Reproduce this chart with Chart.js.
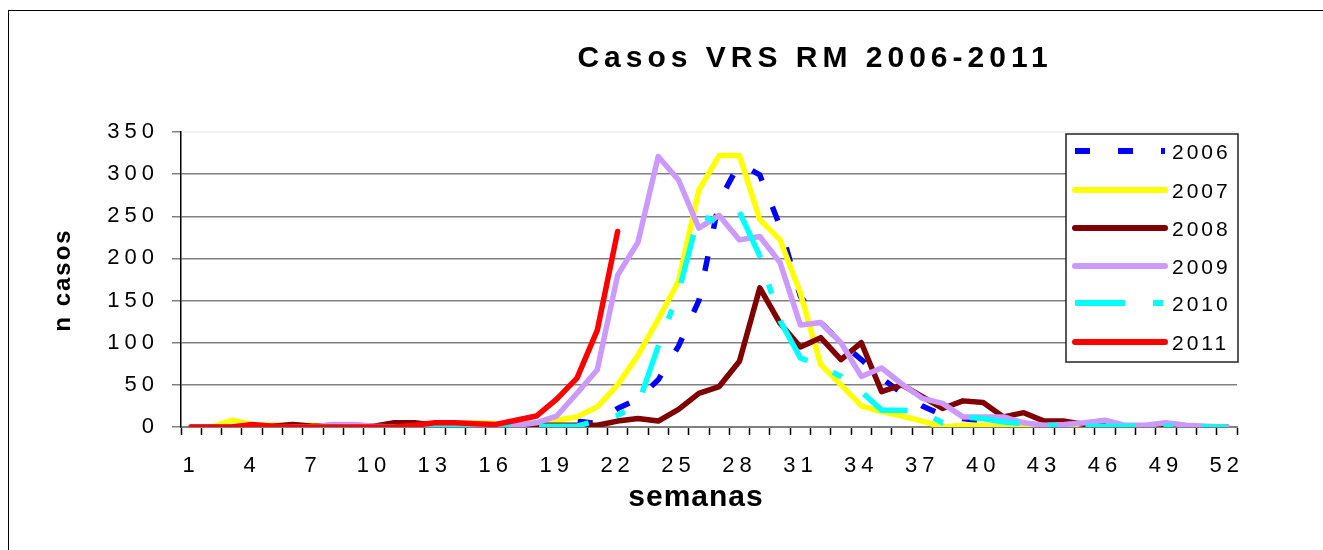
<!DOCTYPE html>
<html>
<head>
<meta charset="utf-8">
<script src="https://cdn.jsdelivr.net/npm/chart.js@4.4.0/dist/chart.umd.min.js"></script>
<style>
  html, body { margin: 0; padding: 0; background: #fff; }
  #wrap { position: relative; width: 1323px; height: 550px; overflow: hidden; }
  #frame { position: absolute; left: 8px; top: 10px; width: 1400px; height: 600px;
           border-left: 1.5px solid #000; border-top: 1.5px solid #000; }
  canvas { position: absolute; left: 0; top: 0; }
</style>
</head>
<body>
<div id="wrap">
  <div id="frame"></div>
  <canvas id="chart" width="1323" height="550"></canvas>
</div>
<script>
const FONT = '"Liberation Sans", Arial, sans-serif';

const TITLE = 'Casos VRS RM 2006-2011';
const X_TITLE = 'semanas';
const Y_TITLE = 'n casos';

// semanas 1..52
const WEEKS = ['1','2','3','4','5','6','7','8','9','10','11','12','13','14','15','16','17','18',
  '19','20','21','22','23','24','25','26','27','28','29','30','31','32','33','34','35','36',
  '37','38','39','40','41','42','43','44','45','46','47','48','49','50','51','52'];

const YEARS = ['2006', '2007', '2008', '2009', '2010', '2011'];

const CASES_2006 = [0,0,0,0,0,0,0,0,0,0,0,0,0,0,0,0,0,1,2,7,4,22,33,56,96,150,268,313,299,238,
  155,124,100,80,58,40,25,14,10,7,6,5,3,2,2,2,1,1,1,0,0,0];
const CASES_2007 = [0,0,8,3,2,2,2,0,0,0,0,0,2,4,5,4,3,5,8,12,24,50,85,128,173,281,322,322,246,222,
  159,74,50,25,18,13,7,0,2,2,0,0,0,0,0,0,0,0,0,0,0,0];
const CASES_2008 = [0,0,0,1,1,3,1,2,2,1,5,5,2,2,2,1,1,2,2,2,2,7,10,7,21,40,48,78,165,123,
  95,106,80,100,42,50,36,22,31,29,12,17,7,7,3,1,0,0,0,0,0,0];
const CASES_2009 = [0,0,0,0,0,0,0,3,3,1,0,0,0,0,0,0,2,5,13,40,68,180,219,321,293,236,251,222,226,195,
  121,124,100,60,70,51,34,28,12,12,12,5,2,3,5,8,2,2,5,2,1,0];
const CASES_2010 = [0,0,0,0,0,0,0,0,0,0,0,0,0,0,0,0,0,1,1,1,8,14,26,96,160,252,242,255,203,126,
  82,72,60,42,20,20,18,5,12,10,6,4,2,1,1,1,1,1,1,1,0,0];
const CASES_2011 = [0,0,0,3,1,0,0,0,0,0,0,2,5,5,4,3,8,13,33,58,115,232];

const SERIES = [CASES_2006, CASES_2007, CASES_2008, CASES_2009, CASES_2010, CASES_2011];
const COLORS = ['#0000ff', '#ffff00', '#800000', '#cc99ff', '#00ffff', '#ff0000'];
const DASHES = [[15, 28], [], [], [], [50, 28, 10, 28], []];

const datasets = YEARS.map((year, i) => ({
  label: year,
  data: SERIES[i],
  borderColor: COLORS[i],
  borderWidth: 5.5,
  borderDash: DASHES[i],
  borderCapStyle: DASHES[i].length ? 'butt' : 'round',
  borderJoinStyle: 'round',
  pointRadius: 0,
  tension: 0,
  fill: false,
  order: YEARS.length - i
}));

const textPlugin = {
  id: 'texts',
  beforeDraw(chart) {
    chart.ctx.letterSpacing = '5px';
  },
  afterDraw(chart) {
    const ctx = chart.ctx;
    ctx.save();
    ctx.fillStyle = '#000';

    ctx.letterSpacing = '5px';
    ctx.font = 'bold 30px ' + FONT;
    ctx.textAlign = 'center';
    ctx.textBaseline = 'alphabetic';
    ctx.fillText(TITLE, 815, 67);

    ctx.letterSpacing = '1px';
    ctx.font = 'bold 30px ' + FONT;
    ctx.fillText(X_TITLE, 696, 506);

    ctx.save();
    ctx.translate(63, 280);
    ctx.rotate(-Math.PI / 2);
    ctx.letterSpacing = '2px';
    ctx.font = 'bold 24px ' + FONT;
    ctx.textBaseline = 'middle';
    ctx.fillText(Y_TITLE, 0, 0);
    ctx.restore();

    // legend box
    ctx.letterSpacing = '0px';
    ctx.fillStyle = '#fff';
    ctx.fillRect(1066, 134, 172, 228);
    ctx.strokeStyle = '#222';
    ctx.lineWidth = 1.5;
    ctx.strokeRect(1066, 134, 172, 228);

    const rows = [151, 190, 228, 266, 303, 342];
    YEARS.forEach((year, i) => {
      const y = rows[i];
      ctx.beginPath();
      ctx.strokeStyle = COLORS[i];
      ctx.lineWidth = 6;
      ctx.setLineDash(DASHES[i]);
      ctx.lineCap = DASHES[i].length ? 'butt' : 'round';
      ctx.moveTo(1075, y);
      ctx.lineTo(1165, y);
      ctx.stroke();
      ctx.setLineDash([]);

      ctx.fillStyle = '#000';
      ctx.letterSpacing = '3px';
      ctx.font = '21px ' + FONT;
      ctx.textAlign = 'left';
      ctx.textBaseline = 'middle';
      ctx.fillText(year, 1172, y + 2);
    });
    ctx.restore();
  }
};

new Chart(document.getElementById('chart'), {
  type: 'line',
  data: { labels: WEEKS, datasets },
  plugins: [textPlugin],
  options: {
    responsive: false,
    animation: false,
    events: [],
    layout: { padding: { left: 0, top: 132, right: 86, bottom: 0 } },
    plugins: {
      legend: { display: false },
      title: { display: false },
      tooltip: { enabled: false }
    },
    scales: {
      x: {
        type: 'category',
        offset: true,
        grid: {
          offset: true,
          drawOnChartArea: false,
          drawTicks: true,
          tickLength: 8,
          tickColor: '#000',
          tickWidth: 1.5,
          color: '#000'
        },
        border: { color: '#808080', width: 2 },
        ticks: {
          autoSkip: false,
          maxRotation: 0,
          color: '#000',
          padding: 18,
          font: { family: FONT, size: 22 },
          callback: (v, i) => (i % 3 === 0 ? WEEKS[i] : '')
        },
        afterFit: s => { s.height = 123; }
      },
      y: {
        min: 0,
        max: 350,
        ticks: {
          stepSize: 50,
          color: '#000',
          padding: 13,
          font: { family: FONT, size: 22 }
        },
        grid: {
          color: c => (c.tick && c.tick.value === 350 ? '#f0f0f0' : '#808080'),
          tickColor: '#808080',
          lineWidth: 1.5,
          tickLength: 9
        },
        border: { color: '#000', width: 1.5 },
        afterFit: s => { s.width = 181; }
      }
    }
  }
});
</script>
</body>
</html>
